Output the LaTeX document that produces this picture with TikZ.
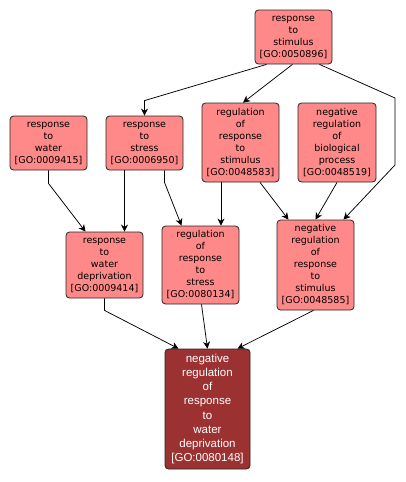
\documentclass[tikz,border=0pt]{standalone}
\usepackage{fontspec}
\usepackage{tikz}
\usetikzlibrary{arrows.meta, positioning}
\newfontfamily\gofont{DejaVu Sans}
\newfontfamily\targetfont{Liberation Sans}
\definecolor{gopink}{RGB}{255,136,136}
\definecolor{godark}{RGB}{155,49,49}

\begin{document}
\begin{tikzpicture}[
    x=1pt, y=-1pt,
    term/.style={rectangle, draw=black!85, fill=gopink, rounded corners=3.5pt, line width=0.8pt, minimum width=77pt, inner sep=0pt, align=center, font=\gofont\fontsize{9.5}{12}\selectfont},
    focus/.style={term, fill=godark, text=white, minimum width=85pt, font=\targetfont\fontsize{11.5}{14.1}\selectfont},
    arrow/.style={-{Stealth[length=7pt, width=7pt, inset=2.2pt]}, line width=0.75pt, black}
]
\useasboundingbox (0,0) rectangle (406,482);

\node[term, minimum height=54pt] (stimulus) at (293.5,37) {response\\to\\stimulus\\{[GO:0050896]}};
\node[term, minimum height=54pt] (water) at (48.5,143) {response\\to\\water\\{[GO:0009415]}};
\node[term, minimum height=54pt] (stress) at (144.5,143) {response\\to\\stress\\{[GO:0006950]}};
\node[term, minimum height=79pt] (regstim) at (240.5,142.5) {regulation\\of\\response\\to\\stimulus\\{[GO:0048583]}};
\node[term, minimum height=79pt, minimum width=78pt] (negbio) at (337,142.5) {negative\\regulation\\of\\biological\\process\\{[GO:0048519]}};
\node[term, minimum height=66pt] (waterdep) at (104.5,265) {response\\to\\water\\deprivation\\{[GO:0009414]}};
\node[term, minimum height=78pt] (regstress) at (200.5,265) {regulation\\of\\response\\to\\stress\\{[GO:0080134]}};
\node[term, minimum height=90pt] (negregstim) at (315.5,265) {negative\\regulation\\of\\response\\to\\stimulus\\{[GO:0048585]}};
\node[focus, minimum height=120pt] (target) at (207.5,409) {negative\\regulation\\of\\response\\to\\water\\deprivation\\{[GO:0080148]}};

\coordinate (bendA) at (395,98);
\coordinate (bendB) at (395,165);

\draw[arrow] ([xshift=-27pt]stimulus.south) -- ([yshift=15pt]stress.north) -- (stress.north);
\draw[arrow] ([xshift=-1pt]stimulus.south) -- ([xshift=2.5pt]regstim.north);
\draw[arrow] ([xshift=26pt]stimulus.south) -- (bendA) -- (bendB) -- ([xshift=28pt]negregstim.north);
\draw[arrow] (water.south) -- ([yshift=-13pt]water.south) -- ([xshift=-19pt]waterdep.north);
\draw[arrow] ([xshift=-20pt]stress.south) -- ([xshift=20pt]waterdep.north);
\draw[arrow] ([xshift=20pt]stress.south) -- ([xshift=20pt, yshift=-12pt]stress.south) -- ([xshift=-19pt]regstress.north);
\draw[arrow] ([xshift=-19.5pt]regstim.south) -- ([xshift=20.5pt]regstress.north);
\draw[arrow] ([xshift=19.5pt]regstim.south) -- ([xshift=-27pt]negregstim.north);
\draw[arrow] (negbio.south) -- (negregstim.north);
\draw[arrow] (waterdep.south) -- ([yshift=-12pt]waterdep.south) -- ([xshift=-29pt]target.north);
\draw[arrow] ([xshift=1pt]regstress.south) -- (target.north);
\draw[arrow] ([xshift=-2pt]negregstim.south) -- ([xshift=30pt]target.north);
\end{tikzpicture}
\end{document}
